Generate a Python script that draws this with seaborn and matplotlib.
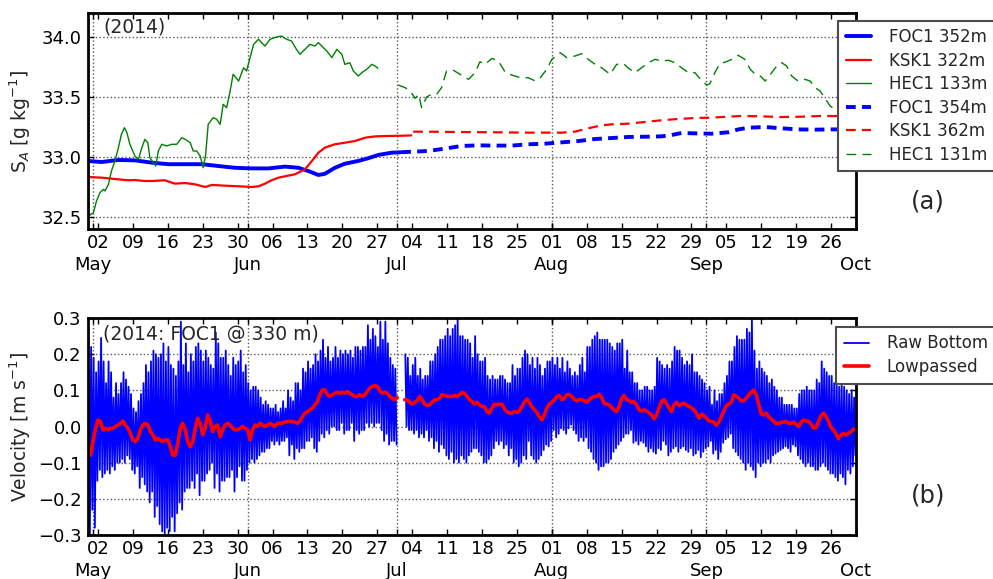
import numpy as np
import pandas as pd
import matplotlib
matplotlib.use("Agg")
import matplotlib.pyplot as plt
import matplotlib.dates as mdates
import seaborn as sns

START = "2014-04-30"
XLIM = ("2014-04-30", "2014-10-01")

# ---------------- panel (a): absolute salinity, days since START ----------------
foc1_352_day = [0, 2.7, 6, 9.4, 12.8, 16.1, 19.5, 22.8, 26.1, 29.5, 32.8, 36.2, 39.5, 42.2,
                44.2, 46.2, 47.5, 49.5, 51.5, 54.2, 56.2, 58.2, 60.9, 62.6]
foc1_352_sa = [32.967, 32.958, 32.975, 32.972, 32.953, 32.94, 32.94, 32.94, 32.925, 32.91,
               32.905, 32.905, 32.92, 32.91, 32.883, 32.85, 32.86, 32.91, 32.944, 32.967,
               32.99, 33.017, 33.036, 33.039]

ksk1_322_day = [0, 2.7, 6, 8.1, 9.4, 11.4, 12.8, 15.4, 17.4, 19.5, 21.5, 23.5, 24.8, 27.5,
                30.2, 32.8, 34.2, 35.5, 36.8, 38.2, 39.5, 41.5, 43.5, 44.9, 46.2, 47.5, 49.5,
                51.5, 53.5, 55.6, 57.6, 60.2, 63.6, 64.8]
ksk1_322_sa = [32.833, 32.828, 32.814, 32.806, 32.808, 32.8, 32.8, 32.806, 32.778, 32.783,
               32.772, 32.75, 32.767, 32.761, 32.756, 32.75, 32.756, 32.778, 32.806, 32.828,
               32.839, 32.856, 32.897, 32.967, 33.036, 33.078, 33.106, 33.119, 33.133, 33.161,
               33.172, 33.175, 33.178, 33.18]

hec1_133_day = [0, 0.4, 1.1, 1.7, 2.4, 3.1, 3.4, 4.1, 4.7, 5.4, 6.1, 6.7, 7.3, 7.8, 8.4, 9.4,
                10.1, 10.8, 11.4, 12.0, 12.4, 13.1, 13.6, 14.1, 14.8, 15.8, 16.8, 17.8, 18.8,
                19.5, 20.5, 21.1, 21.8, 22.5, 23.1, 23.6, 24.1, 25.1, 25.8, 26.5, 27.1, 27.8,
                28.5, 29.1, 30.2, 31.2, 31.8, 32.5, 33.2, 34.2, 34.8, 35.5, 36.5, 37.8, 38.8,
                39.8, 40.8, 41.8, 42.5, 43.5, 44.5, 45.5, 46.2, 47.2, 47.9, 48.9, 49.9, 50.9,
                51.5, 52.5, 53.2, 54.2, 54.9, 55.9, 56.9, 57.6, 58.1]
hec1_133_sa = [32.55, 32.517, 32.536, 32.633, 32.703, 32.73, 32.717, 32.772, 32.883, 32.967,
               33.078, 33.189, 33.244, 33.203, 33.106, 33.008, 32.98, 33.078, 33.147, 33.119,
               32.994, 32.953, 32.925, 33.05, 33.106, 33.092, 33.106, 33.106, 33.161, 33.147,
               33.119, 33.05, 33.05, 33.008, 32.911, 33.022, 33.272, 33.328, 33.314, 33.272,
               33.439, 33.411, 33.55, 33.689, 33.633, 33.744, 33.717, 33.828, 33.939, 33.981,
               33.953, 33.925, 33.981, 34.0, 34.008, 33.981, 33.967, 33.897, 33.856, 33.897,
               33.939, 33.925, 33.953, 33.911, 33.883, 33.828, 33.897, 33.856, 33.772, 33.786,
               33.717, 33.675, 33.703, 33.731, 33.772, 33.758, 33.739]

foc1_354_day = [62.8, 64.9, 68.2, 71.6, 74.9, 78.3, 81.6, 84.9, 88.3, 91.6, 95, 98.3, 101.7,
                105, 108.4, 111.7, 115, 117, 119, 121.7, 125, 128.4, 130.4, 132.4, 135.8,
                139.1, 142.4, 145.8, 149.1, 153.9]
foc1_354_sa = [33.04, 33.044, 33.05, 33.07, 33.092, 33.097, 33.095, 33.095, 33.106, 33.111,
               33.122, 33.133, 33.15, 33.158, 33.167, 33.169, 33.172, 33.183, 33.2, 33.197,
               33.194, 33.206, 33.23, 33.244, 33.25, 33.239, 33.23, 33.228, 33.23, 33.23]

ksk1_362_day = [65.2, 68.2, 74.9, 81.6, 88.3, 95, 97.6, 100.3, 103, 105, 108.4, 111.7, 115,
                118.4, 121.7, 125, 128.4, 131, 135, 139.1, 143.1, 147.1, 153.9]
ksk1_362_sa = [33.211, 33.211, 33.208, 33.206, 33.203, 33.203, 33.211, 33.239, 33.264, 33.272,
               33.278, 33.292, 33.306, 33.317, 33.325, 33.328, 33.336, 33.342, 33.339, 33.333,
               33.336, 33.342, 33.34]

hec1_131_day = [62.2, 63.6, 64.6, 65.6, 66.3, 66.9, 67.9, 68.9, 69.9, 70.9, 71.9, 73.3, 74.6,
                76.3, 77.6, 78.6, 79.6, 81.0, 82.3, 83.7, 85.0, 86.7, 88.3, 89.7, 90.7, 92.0,
                93.0, 94.7, 96.0, 97.7, 99.0, 100.3, 101.7, 103.0, 104.7, 106.0, 107.4, 108.4,
                109.7, 111.0, 112.4, 113.7, 115.0, 116.4, 117.7, 119.0, 120.4, 121.7, 123.1,
                124.1, 124.7, 125.7, 126.7, 128.0, 129.1, 130.4, 131.7, 132.8, 133.8, 134.8,
                135.8, 137.1, 138.1, 139.1, 140.1, 141.1, 142.4, 143.8, 144.8, 145.8, 146.8,
                147.8, 148.8, 149.8, 151.0]
hec1_131_sa = [33.6, 33.578, 33.55, 33.489, 33.522, 33.411, 33.5, 33.522, 33.522, 33.578,
               33.717, 33.722, 33.689, 33.647, 33.703, 33.794, 33.772, 33.822, 33.8, 33.703,
               33.683, 33.661, 33.661, 33.633, 33.661, 33.731, 33.814, 33.869, 33.828, 33.842,
               33.861, 33.814, 33.772, 33.744, 33.689, 33.772, 33.778, 33.739, 33.703, 33.744,
               33.786, 33.814, 33.8, 33.806, 33.786, 33.744, 33.703, 33.703, 33.633, 33.6,
               33.611, 33.703, 33.778, 33.794, 33.814, 33.847, 33.814, 33.731, 33.689, 33.675,
               33.633, 33.703, 33.758, 33.786, 33.758, 33.675, 33.633, 33.647, 33.633, 33.578,
               33.55, 33.489, 33.425, 33.397, 33.36]

labels_a = ["FOC1 352m", "KSK1 322m", "HEC1 133m", "FOC1 354m", "KSK1 362m", "HEC1 131m"]

# ---------------- panel (b): bottom velocity at FOC1 (m/s) ----------------
# tidal-cycle highs and lows, two cycles per day starting at START
nan = float("nan")
raw_hi = [
    0.16, 0.22, 0.19, 0.15, 0.18, 0.245, 0.18, 0.12, 0.18, 0.15, 0.08, 0.12, 0.09, 0.12, 0.15, 0.13, 0.11, 0.09, 0.05, 0.04,
    0.07, 0.09, 0.12, 0.17, 0.15, 0.18, 0.21, 0.20, 0.19, 0.20, 0.23, 0.18, 0.22, 0.17, 0.16, 0.14, 0.18, 0.29, 0.17, 0.23,
    0.15, 0.20, 0.18, 0.22, 0.23, 0.21, 0.18, 0.21, 0.19, 0.17, 0.16, 0.26, 0.23, 0.19, 0.19, 0.21, 0.17, 0.14, 0.19, 0.17,
    0.18, 0.21, 0.15, 0.17, 0.12, 0.10, 0.11, 0.11, 0.10, 0.08, 0.06, 0.07, 0.06, 0.05, 0.05, 0.06, 0.04, 0.05, 0.07, 0.05,
    0.10, 0.08, 0.07, 0.12, 0.12, 0.10, 0.16, 0.15, 0.18, 0.16, 0.17, 0.20, 0.18, 0.21, 0.24, 0.19, 0.22, 0.18, 0.19, 0.22,
    0.19, 0.21, 0.20, 0.21, 0.20, 0.21, 0.19, 0.22, 0.22, 0.21, 0.22, 0.22, 0.28, 0.24, 0.27, 0.25, 0.22, 0.29, 0.24, 0.29,
    0.23, 0.19, 0.17, 0.16, nan, nan, nan, 0.20, 0.19, 0.14, 0.17, 0.19, 0.14, 0.16, 0.13, 0.14, 0.14, 0.18, 0.18, 0.20,
    0.22, 0.24, 0.24, 0.25, 0.27, 0.25, 0.27, 0.28, 0.30, 0.25, 0.25, 0.24, 0.24, 0.23, 0.19, 0.25, 0.20, 0.18, 0.18, 0.19,
    0.14, 0.13, 0.14, 0.13, 0.13, 0.14, 0.14, 0.13, 0.12, 0.12, 0.17, 0.14, 0.16, 0.16, 0.19, 0.21, 0.20, 0.17, 0.19, 0.16,
    0.19, 0.17, 0.14, 0.16, 0.18, 0.18, 0.19, 0.17, 0.19, 0.16, 0.19, 0.15, 0.18, 0.16, 0.14, 0.15, 0.14, 0.17, 0.19, 0.15,
    0.22, 0.22, 0.24, 0.25, 0.26, 0.24, 0.24, 0.24, 0.24, 0.23, 0.22, 0.21, 0.23, 0.23, 0.24, 0.16, 0.21, 0.15, 0.15, 0.12,
    0.12, 0.10, 0.10, 0.11, 0.11, 0.10, 0.10, 0.11, 0.19, 0.18, 0.17, 0.16, 0.17, 0.16, 0.18, 0.22, 0.21, 0.21, 0.19, 0.17,
    0.18, 0.17, 0.20, 0.15, 0.15, 0.14, 0.13, 0.12, 0.10, 0.11, 0.06, 0.10, 0.07, 0.09, 0.09, 0.12, 0.14, 0.18, 0.18, 0.22,
    0.25, 0.24, 0.24, 0.24, 0.27, 0.26, 0.30, 0.21, 0.16, 0.18, 0.16, 0.15, 0.14, 0.12, 0.13, 0.11, 0.10, 0.08, 0.08, 0.06,
    0.06, 0.06, 0.06, 0.05, 0.05, 0.09, 0.10, 0.10, 0.11, 0.10, 0.10, 0.10, 0.13, 0.12, 0.18, 0.16, 0.15, 0.14, 0.14, 0.12,
    0.13, 0.11, 0.12, 0.11, 0.10, 0.09, 0.10, 0.08,
]
raw_lo = [
    -0.30, -0.23, -0.28, -0.15, -0.12, -0.14, -0.13, -0.12, -0.13, -0.11, -0.12, -0.10, -0.10, -0.09, -0.10, -0.08, -0.09, -0.12, -0.13, -0.11,
    -0.17, -0.14, -0.16, -0.18, -0.21, -0.18, -0.25, -0.22, -0.27, -0.29, -0.30, -0.28, -0.29, -0.25, -0.29, -0.24, -0.21, -0.23, -0.18, -0.17,
    -0.17, -0.15, -0.17, -0.13, -0.19, -0.15, -0.15, -0.13, -0.12, -0.10, -0.17, -0.13, -0.18, -0.15, -0.15, -0.14, -0.14, -0.12, -0.18, -0.14,
    -0.11, -0.15, -0.15, -0.12, -0.10, -0.09, -0.10, -0.09, -0.08, -0.07, -0.07, -0.06, -0.06, -0.04, -0.05, -0.04, -0.05, -0.04, -0.04, -0.03,
    -0.08, -0.05, -0.09, -0.06, -0.07, -0.06, -0.06, -0.04, -0.04, -0.03, -0.06, -0.07, -0.04, -0.02, -0.03, -0.01, -0.02, 0.00, 0.00, -0.01,
    -0.01, 0.01, -0.02, -0.01, -0.01, 0.01, -0.04, -0.01, -0.02, -0.01, -0.01, 0.01, 0.00, 0.01, 0.00, 0.01, 0.01, -0.01, -0.04, -0.02,
    -0.05, -0.04, -0.04, -0.05, nan, nan, nan, 0.00, -0.01, -0.01, -0.02, -0.01, -0.03, -0.02, -0.03, -0.01, -0.04, -0.03, -0.06, -0.04,
    -0.07, -0.05, -0.06, -0.08, -0.09, -0.07, -0.10, -0.09, -0.10, -0.08, -0.09, -0.10, -0.08, -0.07, -0.06, -0.06, -0.07, -0.08, -0.10, -0.10,
    -0.09, -0.08, -0.06, -0.04, -0.05, -0.04, -0.06, -0.05, -0.08, -0.06, -0.10, -0.09, -0.11, -0.10, -0.08, -0.09, -0.04, -0.08, -0.09, -0.10,
    -0.09, -0.08, -0.065, -0.05, -0.055, -0.04, -0.01, -0.03, -0.02, -0.005, -0.01, -0.02, -0.005, 0.005, -0.01, -0.02, -0.04, -0.03, -0.04, -0.03,
    -0.06, -0.07, -0.09, -0.10, -0.12, -0.11, -0.11, -0.10, -0.10, -0.09, -0.07, -0.06, -0.05, -0.04, -0.03, -0.02, -0.02, -0.01, -0.045, -0.04,
    -0.05, -0.04, -0.045, -0.055, -0.07, -0.06, -0.07, -0.075, -0.06, -0.065, -0.04, -0.05, -0.08, -0.07, -0.06, -0.055, -0.07, -0.06, -0.055, -0.065,
    -0.07, -0.06, -0.08, -0.075, -0.065, -0.085, -0.07, -0.06, -0.055, -0.04, -0.075, -0.065, -0.09, -0.07, -0.045, -0.035, -0.03, -0.02, -0.06, -0.07,
    -0.08, -0.09, -0.10, -0.12, -0.10, -0.11, -0.12, -0.14, -0.10, -0.11, -0.10, -0.10, -0.09, -0.10, -0.08, -0.075, -0.07, -0.065, -0.06, -0.055,
    -0.06, -0.07, -0.05, -0.055, -0.08, -0.09, -0.10, -0.11, -0.10, -0.11, -0.11, -0.12, -0.12, -0.11, -0.10, -0.11, -0.12, -0.13, -0.13, -0.14,
    -0.15, -0.13, -0.14, -0.16, -0.12, -0.13, -0.11, -0.08,
]
# low-passed velocity every half day starting at START
lowpassed = [
    -0.060, -0.079, -0.042, -0.005, 0.018, 0.014, -0.009, -0.005, -0.009, -0.005,
    -0.005, 0.000, 0.004, 0.009, 0.015, 0.004, -0.005, -0.019, -0.037, -0.042,
    -0.033, -0.009, 0.004, 0.009, 0.004, -0.014, -0.023, -0.037, -0.033, -0.037,
    -0.042, -0.037, -0.037, -0.056, -0.079, -0.079, -0.046, -0.005, 0.009, -0.009,
    -0.042, -0.056, -0.042, -0.005, 0.023, 0.009, -0.023, -0.005, 0.032, 0.014,
    -0.014, 0.000, 0.004, -0.028, -0.009, 0.004, 0.009, 0.004, -0.005, -0.009,
    -0.009, -0.005, 0.000, -0.005, -0.009, -0.037, -0.009, 0.004, 0.000, 0.009,
    0.004, 0.000, 0.004, 0.009, 0.004, 0.000, 0.009, 0.009, 0.009, 0.012,
    0.014, 0.014, 0.014, 0.012, 0.009, 0.015, 0.027, 0.037, 0.041, 0.046,
    0.051, 0.060, 0.069, 0.088, 0.101, 0.101, 0.088, 0.083, 0.088, 0.092,
    0.095, 0.092, 0.095, 0.092, 0.097, 0.092, 0.088, 0.083, 0.083, 0.088,
    0.083, 0.088, 0.097, 0.106, 0.111, 0.113, 0.111, 0.099, 0.092, 0.095,
    0.092, 0.083, 0.078, 0.074, 0.080, nan, nan, 0.074, 0.074, 0.067,
    0.062, 0.067, 0.071, 0.083, 0.074, 0.062, 0.058, 0.060, 0.067, 0.074,
    0.074, 0.078, 0.088, 0.086, 0.083, 0.083, 0.083, 0.086, 0.083, 0.088,
    0.094, 0.092, 0.083, 0.074, 0.069, 0.062, 0.067, 0.060, 0.055, 0.055,
    0.041, 0.037, 0.051, 0.062, 0.060, 0.062, 0.062, 0.049, 0.041, 0.037,
    0.037, 0.041, 0.039, 0.043, 0.055, 0.067, 0.076, 0.067, 0.055, 0.046,
    0.039, 0.027, 0.018, 0.032, 0.051, 0.062, 0.067, 0.074, 0.083, 0.086,
    0.074, 0.078, 0.088, 0.089, 0.083, 0.076, 0.071, 0.074, 0.074, 0.071,
    0.067, 0.074, 0.080, 0.083, 0.083, 0.089, 0.080, 0.064, 0.062, 0.060,
    0.052, 0.046, 0.041, 0.055, 0.078, 0.086, 0.074, 0.071, 0.067, 0.069,
    0.060, 0.046, 0.043, 0.046, 0.043, 0.037, 0.032, 0.021, 0.032, 0.051,
    0.069, 0.074, 0.064, 0.051, 0.041, 0.060, 0.067, 0.058, 0.062, 0.064,
    0.060, 0.055, 0.052, 0.046, 0.037, 0.023, 0.034, 0.030, 0.023, 0.015,
    0.014, 0.012, 0.003, 0.012, 0.027, 0.043, 0.058, 0.062, 0.067, 0.088,
    0.083, 0.078, 0.071, 0.071, 0.078, 0.088, 0.095, 0.101, 0.088, 0.060,
    0.034, 0.032, 0.037, 0.027, 0.021, 0.014, 0.008, 0.009, 0.012, 0.012,
    0.014, 0.009, 0.009, 0.012, 0.006, 0.000, 0.012, 0.018, 0.015, 0.014,
    0.006, -0.005, -0.003, 0.014, 0.030, 0.037, 0.027, 0.014, -0.003, -0.009,
    -0.021, -0.034, -0.023, -0.019, -0.023, -0.019, -0.014, -0.007,
]
labels_b = ["Raw Bottom", "Lowpassed"]

# ---------------- style ----------------
sns.set_style("ticks")
plt.rcParams.update({
    "font.family": ["DejaVu Sans"],
    "mathtext.fontset": "dejavusans",
    "axes.linewidth": 2.0,
    "axes.edgecolor": "black",
    "xtick.direction": "in", "ytick.direction": "in",
    "xtick.top": True, "ytick.right": True,
    "xtick.major.size": 4.5, "xtick.minor.size": 4.5,
    "ytick.major.size": 4.5, "ytick.minor.size": 0,
    "xtick.major.width": 1.0, "xtick.minor.width": 1.0, "ytick.major.width": 1.0,
    "xtick.major.pad": 19.5, "xtick.minor.pad": 3.5, "ytick.major.pad": 4.5,
    "xtick.color": "black", "ytick.color": "black",
    "axes.unicode_minus": True,
    "lines.scale_dashes": False,
    "legend.fancybox": False,
})

t0 = pd.Timestamp(START)


def to_time(days):
    return t0 + pd.to_timedelta(np.asarray(days, dtype=float), unit="D")


def segmented(times, values):
    df = pd.DataFrame({"time": times, "v": np.asarray(values, dtype=float)})
    df["seg"] = df["v"].isna().cumsum()
    return df.dropna()


fig = plt.figure(figsize=(9.93, 5.79), dpi=100)
W, H = 993.0, 579.0
ax1 = fig.add_axes([88 / W, 1 - 229 / H, 768 / W, 216 / H])
ax2 = fig.add_axes([88 / W, 1 - 535 / H, 768 / W, 217 / H])

DASH = (0, (7, 4.5))
series_a = [
    (foc1_352_day, foc1_352_sa, "blue", 2.8, "-"),
    (ksk1_322_day, ksk1_322_sa, "red", 1.6, "-"),
    (hec1_133_day, hec1_133_sa, "green", 1.0, "-"),
    (foc1_354_day, foc1_354_sa, "blue", 2.8, DASH),
    (ksk1_362_day, ksk1_362_sa, "red", 1.6, DASH),
    (hec1_131_day, hec1_131_sa, "green", 1.0, DASH),
]
handles_a = []
for days, vals, col, lw, ls in series_a:
    n0 = len(ax1.lines)
    sns.lineplot(x=to_time(days), y=vals, ax=ax1, color=col, lw=lw, linestyle=ls,
                 estimator=None, sort=False)
    handles_a.append(ax1.lines[n0])

# raw signal: alternate highs and lows (two tidal cycles per day)
cyc_day = np.arange(len(raw_hi)) * 0.5
raw_days = np.column_stack([cyc_day + 0.125, cyc_day + 0.375]).ravel()
raw_vals = np.column_stack([raw_hi, raw_lo]).ravel()
df_raw = segmented(to_time(raw_days), raw_vals)
n0 = len(ax2.lines)
sns.lineplot(data=df_raw, x="time", y="v", units="seg", estimator=None, sort=False,
             ax=ax2, color="blue", lw=1.3)
h_raw = ax2.lines[n0]

lp_days = np.arange(len(lowpassed)) * 0.5
df_lp = segmented(to_time(lp_days), lowpassed)
n0 = len(ax2.lines)
sns.lineplot(data=df_lp, x="time", y="v", units="seg", estimator=None, sort=False,
             ax=ax2, color="red", lw=2.6)
h_lp = ax2.lines[n0]

for ax in (ax1, ax2):
    ax.set_xlim(pd.Timestamp(XLIM[0]), pd.Timestamp(XLIM[1]))
    ax.xaxis.set_major_locator(mdates.MonthLocator())
    ax.xaxis.set_major_formatter(mdates.DateFormatter("%b"))
    ax.xaxis.set_minor_locator(mdates.WeekdayLocator(byweekday=mdates.FR))
    ax.xaxis.set_minor_formatter(mdates.DateFormatter("%d"))
    ax.xaxis.remove_overlapping_locs = False
    ax.tick_params(axis="both", which="both", labelsize=13)
    ax.grid(True, which="major", linestyle=":", color="0.35", linewidth=1.0)
    ax.set_xlabel("")
    for s in ax.spines.values():
        s.set_visible(True)
        s.set_linewidth(2.0)

ax1.set_ylim(32.4, 34.2)
ax1.set_yticks([32.5, 33.0, 33.5, 34.0])
ax1.set_ylabel("S$_A$ [g kg$^{-1}$]", fontsize=13.5)
ax1.yaxis.set_label_coords(-0.072, 0.5)
ax1.text(0.0195, 0.935, "(2014)", transform=ax1.transAxes, fontsize=13.5, va="center", ha="left")

ax2.set_ylim(-0.3, 0.3)
ax2.set_yticks([-0.3, -0.2, -0.1, 0.0, 0.1, 0.2, 0.3])
ax2.set_ylabel("Velocity [m s$^{-1}$]", fontsize=13.5)
ax2.yaxis.set_label_coords(-0.072, 0.5)
ax2.text(0.0195, 0.926, "(2014: FOC1 @ 330 m)", transform=ax2.transAxes, fontsize=13.5,
         va="center", ha="left")

leg_kw = dict(loc="upper left", bbox_transform=fig.transFigure, borderaxespad=0,
              fontsize=12, handlelength=1.5, handletextpad=1.1, labelspacing=0.33,
              borderpad=0.45, framealpha=1, facecolor="white", edgecolor="0.3")
leg1 = ax1.legend(handles_a, labels_a, bbox_to_anchor=(838 / W, 1 - 20.7 / H), **leg_kw)
leg1.get_frame().set_linewidth(1.5)
leg2 = ax2.legend([h_raw, h_lp], labels_b, bbox_to_anchor=(836 / W, 1 - 327 / H), **leg_kw)
leg2.get_frame().set_linewidth(1.5)

fig.text(928 / W, 1 - 202 / H, "(a)", fontsize=17.5, ha="center", va="center")
fig.text(928 / W, 1 - 496 / H, "(b)", fontsize=17.5, ha="center", va="center")

fig.savefig("out.png", dpi=100)
